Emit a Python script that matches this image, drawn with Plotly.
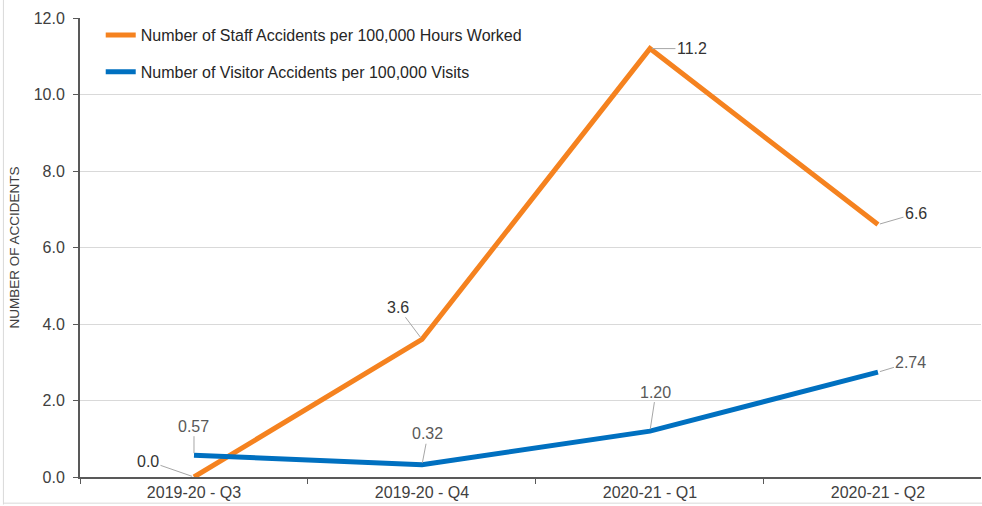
import plotly.graph_objects as go

categories = ["2019-20 - Q3", "2019-20 - Q4", "2020-21 - Q1", "2020-21 - Q2"]
staff_values = [0.0, 3.6, 11.2, 6.6]
visitor_values = [0.57, 0.32, 1.20, 2.74]
staff_labels = ["0.0", "3.6", "11.2", "6.6"]
visitor_labels = ["0.57", "0.32", "1.20", "2.74"]
y_ticks = [0, 2, 4, 6, 8, 10, 12]
y_tick_labels = ["0.0", "2.0", "4.0", "6.0", "8.0", "10.0", "12.0"]

staff_name = "Number of Staff Accidents per 100,000 Hours Worked"
visitor_name = "Number of Visitor Accidents per 100,000 Visits"

ORANGE = "#F5821F"
BLUE = "#0070C0"
FONT = "Liberation Sans, Arial, sans-serif"

fig = go.Figure()
fig.add_trace(go.Scatter(x=categories, y=staff_values, mode="lines", name=staff_name,
                         line=dict(color=ORANGE, width=5), legendgroup="a"))
fig.add_trace(go.Scatter(x=categories, y=visitor_values, mode="lines", name=visitor_name,
                         line=dict(color=BLUE, width=5), legendgroup="b"))

# label offsets (pixels) for each point
staff_offsets = [(-46, -16), (-24, -32), (42, 0), (38, -11)]
visitor_offsets = [(0, -29), (6, -31), (6, -39), (33, -10)]

for cat, val, lab, (ax, ay) in zip(categories, staff_values, staff_labels, staff_offsets):
    fig.add_annotation(x=cat, y=val, text=lab, showarrow=True, arrowhead=0, arrowwidth=1,
                       arrowcolor="#A6A6A6", ax=ax, ay=ay, standoff=2,
                       font=dict(family=FONT, size=16, color="#333333"))
for cat, val, lab, (ax, ay) in zip(categories, visitor_values, visitor_labels, visitor_offsets):
    fig.add_annotation(x=cat, y=val, text=lab, showarrow=True, arrowhead=0, arrowwidth=1,
                       arrowcolor="#A6A6A6", ax=ax, ay=ay, standoff=2,
                       font=dict(family=FONT, size=16, color="#595959"))

# outer border (left and bottom)
fig.add_shape(type="line", xref="paper", yref="paper", x0=-0.085, x1=-0.085, y0=-0.06, y1=1.05,
              line=dict(color="#D9D9D9", width=1))
fig.add_shape(type="line", xref="paper", yref="paper", x0=-0.085, x1=1.01, y0=-0.057, y1=-0.057,
              line=dict(color="#D9D9D9", width=1))

fig.update_layout(
    width=982, height=506,
    margin=dict(l=80, r=1, t=18, b=29),
    paper_bgcolor="white", plot_bgcolor="white",
    font=dict(family=FONT, size=16, color="#404040"),
    showlegend=True,
    legend=dict(x=0.023, y=1.0, xanchor="left", yanchor="top", bgcolor="rgba(0,0,0,0)",
                font=dict(family=FONT, size=16, color="#262626"), tracegroupgap=13,
                itemwidth=30),
    xaxis=dict(type="category", range=[-0.5, 3.452], showgrid=False,
               showline=True, linecolor="#595959", linewidth=2,
               ticks="outside", tickson="boundaries", ticklen=5, tickcolor="#595959",
               tickfont=dict(family=FONT, size=16, color="#404040")),
    yaxis=dict(range=[0, 12], tickvals=y_ticks, ticktext=y_tick_labels,
               showgrid=True, gridcolor="#D9D9D9", gridwidth=1,
               showline=True, linecolor="#595959", linewidth=2,
               ticks="outside", ticklen=5, tickcolor="#595959", ticklabelstandoff=5,
               tickfont=dict(family=FONT, size=16, color="#404040"),
               zeroline=False,
               title=dict(text="NUMBER OF ACCIDENTS", standoff=11,
                          font=dict(family="Liberation Sans Narrow, " + FONT, size=13.5, color="#404040"))),
)

fig.write_html("out.html", config={"displayModeBar": False},
               post_script="document.body.style.margin='0';document.body.style.overflow='hidden';")
